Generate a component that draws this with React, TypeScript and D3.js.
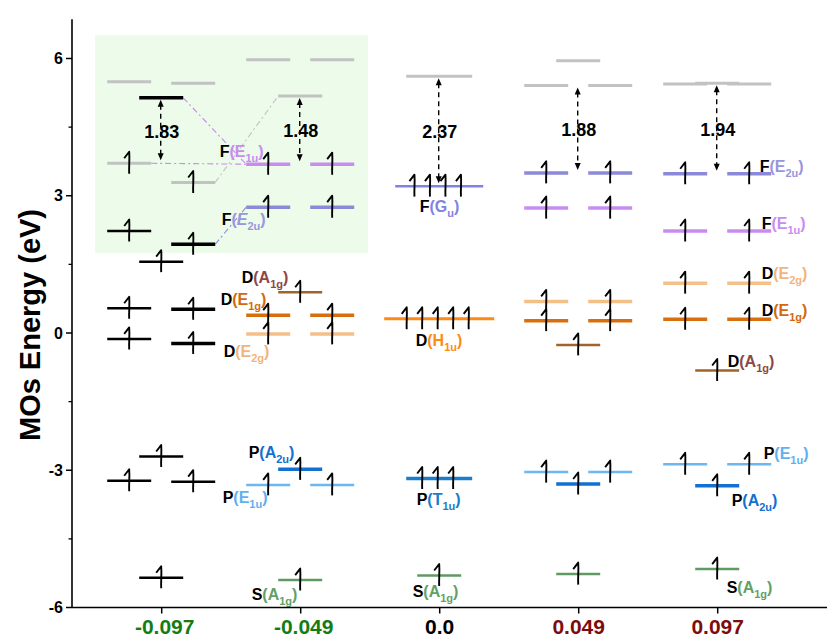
import React from 'react';
import * as d3 from 'd3';

// ---------- data ----------
const columns = ['-0.097', '-0.049', '0.0', '0.049', '0.097'];
const columnLabelColors = ['#137d13', '#137d13', '#000000', '#7d0c0c', '#7d0c0c'];
const yMajorTicks = [-6, -3, 0, 3, 6];
const yMinorTicks = [-4.5, -1.5, 1.5, 4.5];

// slot: -1 left, 0 centre, 1 right ; deg: degeneracy ; el: electrons
const levels = [
  // -0.097
  { id: 'a1', col: '-0.097', e: 5.49, slot: -1, deg: 1, el: 0, grp: 'empty' },
  { id: 'a2', col: '-0.097', e: 5.46, slot: 1, deg: 1, el: 0, grp: 'empty' },
  { id: 'a3', col: '-0.097', e: 5.14, slot: 0, deg: 1, el: 0, grp: 'coreBold' },
  { id: 'a4', col: '-0.097', e: 3.71, slot: -1, deg: 1, el: 1, grp: 'empty' },
  { id: 'a5', col: '-0.097', e: 3.29, slot: 1, deg: 1, el: 1, grp: 'empty' },
  { id: 'a6', col: '-0.097', e: 2.23, slot: -1, deg: 1, el: 1, grp: 'core' },
  { id: 'a7', col: '-0.097', e: 1.94, slot: 1, deg: 1, el: 1, grp: 'coreBold' },
  { id: 'a8', col: '-0.097', e: 1.56, slot: 0, deg: 1, el: 1, grp: 'core' },
  { id: 'a9', col: '-0.097', e: 0.54, slot: -1, deg: 1, el: 1, grp: 'core' },
  { id: 'a10', col: '-0.097', e: 0.52, slot: 1, deg: 1, el: 1, grp: 'coreBold' },
  { id: 'a11', col: '-0.097', e: -0.13, slot: -1, deg: 1, el: 1, grp: 'core' },
  { id: 'a12', col: '-0.097', e: -0.23, slot: 1, deg: 1, el: 1, grp: 'coreBold' },
  { id: 'a13', col: '-0.097', e: -2.70, slot: 0, deg: 1, el: 1, grp: 'core' },
  { id: 'a14', col: '-0.097', e: -3.23, slot: -1, deg: 1, el: 1, grp: 'core' },
  { id: 'a15', col: '-0.097', e: -3.25, slot: 1, deg: 1, el: 1, grp: 'core' },
  { id: 'a16', col: '-0.097', e: -5.35, slot: 0, deg: 1, el: 1, grp: 'core' },
  // -0.049
  { id: 'b1', col: '-0.049', e: 5.97, slot: -1, deg: 1, el: 0, grp: 'empty' },
  { id: 'b2', col: '-0.049', e: 5.97, slot: 1, deg: 1, el: 0, grp: 'empty' },
  { id: 'b3', col: '-0.049', e: 5.18, slot: 0, deg: 1, el: 0, grp: 'empty' },
  { id: 'b4', col: '-0.049', e: 3.69, slot: -1, deg: 1, el: 1, grp: 'F_E1u' },
  { id: 'b5', col: '-0.049', e: 3.69, slot: 1, deg: 1, el: 1, grp: 'F_E1u' },
  { id: 'b6', col: '-0.049', e: 2.75, slot: -1, deg: 1, el: 1, grp: 'F_E2u' },
  { id: 'b7', col: '-0.049', e: 2.75, slot: 1, deg: 1, el: 1, grp: 'F_E2u' },
  { id: 'b8', col: '-0.049', e: 0.89, slot: 0, deg: 1, el: 1, grp: 'D_A1g' },
  { id: 'b9', col: '-0.049', e: 0.39, slot: -1, deg: 1, el: 1, grp: 'D_E1g' },
  { id: 'b10', col: '-0.049', e: 0.39, slot: 1, deg: 1, el: 1, grp: 'D_E1g' },
  { id: 'b11', col: '-0.049', e: -0.02, slot: -1, deg: 1, el: 1, grp: 'D_E2g' },
  { id: 'b12', col: '-0.049', e: -0.02, slot: 1, deg: 1, el: 1, grp: 'D_E2g' },
  { id: 'b13', col: '-0.049', e: -2.98, slot: 0, deg: 1, el: 1, grp: 'P_A2u' },
  { id: 'b14', col: '-0.049', e: -3.32, slot: -1, deg: 1, el: 1, grp: 'P_E1u' },
  { id: 'b15', col: '-0.049', e: -3.32, slot: 1, deg: 1, el: 1, grp: 'P_E1u' },
  { id: 'b16', col: '-0.049', e: -5.40, slot: 0, deg: 1, el: 1, grp: 'S_A1g' },
  // 0.0
  { id: 'c1', col: '0.0', e: 5.61, slot: 0, deg: 3, el: 0, grp: 'empty' },
  { id: 'c2', col: '0.0', e: 3.21, slot: 0, deg: 4, el: 4, grp: 'F_Gu' },
  { id: 'c3', col: '0.0', e: 0.31, slot: 0, deg: 5, el: 5, grp: 'D_H1u' },
  { id: 'c4', col: '0.0', e: -3.18, slot: 0, deg: 3, el: 3, grp: 'P_T1u' },
  { id: 'c5', col: '0.0', e: -5.30, slot: 0, deg: 1, el: 1, grp: 'S_A1g' },
  // 0.049
  { id: 'd1', col: '0.049', e: 5.95, slot: 0, deg: 1, el: 0, grp: 'empty' },
  { id: 'd2', col: '0.049', e: 5.41, slot: -1, deg: 1, el: 0, grp: 'empty' },
  { id: 'd3', col: '0.049', e: 5.41, slot: 1, deg: 1, el: 0, grp: 'empty' },
  { id: 'd4', col: '0.049', e: 3.50, slot: -1, deg: 1, el: 1, grp: 'F_E2u' },
  { id: 'd5', col: '0.049', e: 3.50, slot: 1, deg: 1, el: 1, grp: 'F_E2u' },
  { id: 'd6', col: '0.049', e: 2.73, slot: -1, deg: 1, el: 1, grp: 'F_E1u' },
  { id: 'd7', col: '0.049', e: 2.73, slot: 1, deg: 1, el: 1, grp: 'F_E1u' },
  { id: 'd8', col: '0.049', e: 0.69, slot: -1, deg: 1, el: 1, grp: 'D_E2g' },
  { id: 'd9', col: '0.049', e: 0.69, slot: 1, deg: 1, el: 1, grp: 'D_E2g' },
  { id: 'd10', col: '0.049', e: 0.27, slot: -1, deg: 1, el: 1, grp: 'D_E1g' },
  { id: 'd11', col: '0.049', e: 0.27, slot: 1, deg: 1, el: 1, grp: 'D_E1g' },
  { id: 'd12', col: '0.049', e: -0.26, slot: 0, deg: 1, el: 1, grp: 'D_A1g' },
  { id: 'd13', col: '0.049', e: -3.04, slot: -1, deg: 1, el: 1, grp: 'P_E1u' },
  { id: 'd14', col: '0.049', e: -3.04, slot: 1, deg: 1, el: 1, grp: 'P_E1u' },
  { id: 'd15', col: '0.049', e: -3.30, slot: 0, deg: 1, el: 1, grp: 'P_A2u' },
  { id: 'd16', col: '0.049', e: -5.27, slot: 0, deg: 1, el: 1, grp: 'S_A1g' },
  // 0.097
  { id: 'e1', col: '0.097', e: 5.44, slot: -1, deg: 1, el: 0, grp: 'empty' },
  { id: 'e2', col: '0.097', e: 5.46, slot: 0, deg: 1, el: 0, grp: 'empty' },
  { id: 'e3', col: '0.097', e: 5.44, slot: 1, deg: 1, el: 0, grp: 'empty' },
  { id: 'e4', col: '0.097', e: 3.48, slot: -1, deg: 1, el: 1, grp: 'F_E2u' },
  { id: 'e5', col: '0.097', e: 3.48, slot: 1, deg: 1, el: 1, grp: 'F_E2u' },
  { id: 'e6', col: '0.097', e: 2.23, slot: -1, deg: 1, el: 1, grp: 'F_E1u' },
  { id: 'e7', col: '0.097', e: 2.23, slot: 1, deg: 1, el: 1, grp: 'F_E1u' },
  { id: 'e8', col: '0.097', e: 1.09, slot: -1, deg: 1, el: 1, grp: 'D_E2g' },
  { id: 'e9', col: '0.097', e: 1.09, slot: 1, deg: 1, el: 1, grp: 'D_E2g' },
  { id: 'e10', col: '0.097', e: 0.30, slot: -1, deg: 1, el: 1, grp: 'D_E1g' },
  { id: 'e11', col: '0.097', e: 0.30, slot: 1, deg: 1, el: 1, grp: 'D_E1g' },
  { id: 'e12', col: '0.097', e: -0.82, slot: 0, deg: 1, el: 1, grp: 'D_A1g' },
  { id: 'e13', col: '0.097', e: -2.87, slot: -1, deg: 1, el: 1, grp: 'P_E1u' },
  { id: 'e14', col: '0.097', e: -2.87, slot: 1, deg: 1, el: 1, grp: 'P_E1u' },
  { id: 'e15', col: '0.097', e: -3.34, slot: 0, deg: 1, el: 1, grp: 'P_A2u' },
  { id: 'e16', col: '0.097', e: -5.16, slot: 0, deg: 1, el: 1, grp: 'S_A1g' },
];

// HOMO-LUMO style gaps
const gaps = [
  { col: '-0.097', top: 'a3', bottom: 'a4', label: '1.83' },
  { col: '-0.049', top: 'b3', bottom: 'b4', label: '1.48' },
  { col: '0.0', top: 'c1', bottom: 'c2', label: '2.37' },
  { col: '0.049', top: 'd2', bottom: 'd4', label: '1.88' },
  { col: '0.097', top: 'e2', bottom: 'e4', label: '1.94' },
];

// correlation lines (right end of "from" to left end of "to")
const correlations = [
  { from: 'a3', to: 'b4', grp: 'F_E1u' },
  { from: 'a4', to: 'b4', grp: 'F_E1u' },
  { from: 'a5', to: 'b3', grp: 'empty' },
  { from: 'a7', to: 'b6', grp: 'F_E2u' },
];

// orbital labels: anchored to a level
const orbitalLabels = [
  { at: 'b4', dx: -81, dy: -7, orb: 'F', sym: 'E', sub: '1u', grp: 'F_E1u', italic: false },
  { at: 'b6', dx: -79, dy: 18, orb: 'F', sym: 'E', sub: '2u', grp: 'F_E2u', italic: true },
  { at: 'b8', dx: -59, dy: -9, orb: 'D', sym: 'A', sub: '1g', grp: 'D_A1g', italic: false },
  { at: 'b9', dx: -80, dy: -10, orb: 'D', sym: 'E', sub: '1g', grp: 'D_E1g', italic: false },
  { at: 'b11', dx: -77, dy: 23, orb: 'D', sym: 'E', sub: '2g', grp: 'D_E2g', italic: false },
  { at: 'b13', dx: -52, dy: -11, orb: 'P', sym: 'A', sub: '2u', grp: 'P_A2u', italic: false },
  { at: 'b14', dx: -78, dy: 18, orb: 'P', sym: 'E', sub: '1u', grp: 'P_E1u', italic: false },
  { at: 'b16', dx: -49, dy: 20, orb: 'S', sym: 'A', sub: '1g', grp: 'S_A1g', italic: false },
  { at: 'c2', dx: -20, dy: 26, orb: 'F', sym: 'G', sub: 'u', grp: 'F_Gu', italic: false },
  { at: 'c3', dx: -24, dy: 27, orb: 'D', sym: 'H', sub: '1u', grp: 'D_H1u', italic: false },
  { at: 'c4', dx: -23, dy: 27, orb: 'P', sym: 'T', sub: '1u', grp: 'P_T1u', italic: false },
  { at: 'c5', dx: -27, dy: 22, orb: 'S', sym: 'A', sub: '1g', grp: 'S_A1g', italic: false },
  { at: 'e4', dx: 42, dy: -2, orb: 'F', sym: 'E', sub: '2u', grp: 'F_E2u', italic: false },
  { at: 'e6', dx: 44, dy: -2, orb: 'F', sym: 'E', sub: '1u', grp: 'F_E1u', italic: false },
  { at: 'e8', dx: 44, dy: -4, orb: 'D', sym: 'E', sub: '2g', grp: 'D_E2g', italic: false },
  { at: 'e10', dx: 44, dy: -3, orb: 'D', sym: 'E', sub: '1g', grp: 'D_E1g', italic: false },
  { at: 'e12', dx: 10, dy: -4, orb: 'D', sym: 'A', sub: '1g', grp: 'D_A1g', italic: false },
  { at: 'e13', dx: 46, dy: -5, orb: 'P', sym: 'E', sub: '1u', grp: 'P_E1u', italic: false },
  { at: 'e15', dx: 14, dy: 20, orb: 'P', sym: 'A', sub: '2u', grp: 'P_A2u', italic: false },
  { at: 'e16', dx: 9, dy: 24, orb: 'S', sym: 'A', sub: '1g', grp: 'S_A1g', italic: false },
];

// ---------- styles ----------
const GROUPS: Record<string, { line: string; text: string; w: number }> = {
  empty: { line: '#c2c2c2', text: '#c2c2c2', w: 3 },
  core: { line: '#000000', text: '#000000', w: 2.5 },
  coreBold: { line: '#000000', text: '#000000', w: 3.5 },
  F_E1u: { line: '#c88cf0', text: '#c98cf0', w: 3.5 },
  F_E2u: { line: '#8c8ad8', text: '#9896dc', w: 3.5 },
  F_Gu: { line: '#8282e6', text: '#8282e0', w: 2.5 },
  D_A1g: { line: '#a0642a', text: '#8e4646', w: 2.5 },
  D_E1g: { line: '#d96e0e', text: '#d2690e', w: 3.5 },
  D_E2g: { line: '#f5bf88', text: '#f2b47c', w: 3.5 },
  D_H1u: { line: '#ff8a12', text: '#ff8a12', w: 3 },
  P_A2u: { line: '#1170d0', text: '#1170d0', w: 3.5 },
  P_E1u: { line: '#6cb6f2', text: '#62b0f0', w: 2.5 },
  P_T1u: { line: '#1b7cc9', text: '#1b7cc9', w: 3.5 },
  S_A1g: { line: '#5f9a63', text: '#62a066', w: 2.5 },
};

const W = 827;
const H = 637;
const FONT = 'Arial, "Liberation Sans", Helvetica, sans-serif';
const GREEN = '#ecfbea';

export default function App() {
  const x = d3.scalePoint<string>().domain(columns).range([161.7, 717.7]);
  const y = d3.scaleLinear().domain([-6, 6]).range([607.5, 58.5]);
  const axisX = 72;
  const axisTopE = 6.86;
  const slotStep = 32;
  const segW = (deg: number) => 22 * Math.max(2, deg);

  const geom = new Map<string, { x1: number; x2: number; cx: number; y: number }>();
  levels.forEach((l) => {
    const cx = (x(l.col) as number) + l.slot * slotStep - 0.5;
    const w = segW(l.deg);
    geom.set(l.id, { x1: cx - w / 2, x2: cx + w / 2, cx, y: y(l.e) });
  });

  const electron = (ex: number, ey: number, key: string) => (
    <path
      key={key}
      d={`M${ex - 5},${ey - 5} L${ex},${ey - 11.5} C${ex + 0.6},${ey - 3} ${ex - 0.4},${ey + 3} ${ex},${ey + 10.5}`}
      fill="none"
      stroke="#000"
      strokeWidth={1.9}
      strokeLinejoin="round"
    />
  );

  const greenX1 = (x('-0.097') as number) - 66.7;
  const greenX2 = (x('-0.049') as number) + 67.3;

  return (
    <svg width={W} height={H} style={{ position: 'absolute', left: 0, top: 0, background: '#fff' }} fontFamily={FONT}>
      <rect x={0} y={0} width={W} height={H} fill="#fff" />
      {/* highlight region */}
      <rect x={greenX1} y={y(6.51)} width={greenX2 - greenX1} height={y(1.75) - y(6.51)} fill={GREEN} />

      {/* correlation lines */}
      {correlations.map((c, i) => {
        const a = geom.get(c.from)!;
        const b = geom.get(c.to)!;
        return (
          <line key={'cor' + i} x1={a.x2} y1={a.y} x2={b.x1} y2={b.y}
            stroke={GROUPS[c.grp].line} strokeWidth={1.1} strokeDasharray="6,3,2,3" />
        );
      })}

      {/* levels */}
      {levels.map((l) => {
        const g = geom.get(l.id)!;
        return (
          <line key={l.id} x1={g.x1} x2={g.x2} y1={g.y} y2={g.y}
            stroke={GROUPS[l.grp].line} strokeWidth={GROUPS[l.grp].w} />
        );
      })}

      {/* electrons */}
      {levels.map((l) => {
        const g = geom.get(l.id)!;
        const n = l.el;
        const sp = 15.5;
        return d3.range(n).map((k) => electron(g.cx - 1.5 * (n > 1 ? 1 : 0) + (k - (n - 1) / 2) * sp, g.y, l.id + 'e' + k));
      })}

      {/* gaps */}
      {gaps.map((gp, i) => {
        const t = geom.get(gp.top)!;
        const b = geom.get(gp.bottom)!;
        const gx = (x(gp.col) as number) - 1;
        const yt = t.y + 2;
        const yb = b.y - 3;
        return (
          <g key={'gap' + i}>
            <line x1={gx} x2={gx} y1={yt + 5} y2={yb - 5} stroke="#000" strokeWidth={1.4} strokeDasharray="5,4" />
            <path d={`M${gx},${yt} L${gx - 3},${yt + 7} L${gx + 3},${yt + 7} Z`} fill="#000" />
            <path d={`M${gx},${yb} L${gx - 3},${yb - 7} L${gx + 3},${yb - 7} Z`} fill="#000" />
            <text x={gx + 1} y={(yt + yb) / 2 + 3} textAnchor="middle" dominantBaseline="middle"
              fontSize={18} fontWeight="bold" fill="#000">{gp.label}</text>
          </g>
        );
      })}

      {/* orbital labels */}
      {orbitalLabels.map((lb, i) => {
        const g = geom.get(lb.at)!;
        const lx = (x(levels.find((l) => l.id === lb.at)!.col) as number) + lb.dx;
        const c = GROUPS[lb.grp].text;
        return (
          <text key={'lb' + i} x={lx} y={g.y + lb.dy} fontSize={16} fontWeight="bold">
            <tspan fill="#000">{lb.orb}</tspan>
            <tspan fill={c}>(</tspan>
            <tspan fill={c} fontStyle={lb.italic ? 'italic' : 'normal'}>{lb.sym}</tspan>
            <tspan fill={c} fontSize={11} dy={5}>{lb.sub}</tspan>
            <tspan fill={c} dy={-5}>)</tspan>
          </text>
        );
      })}

      {/* y axis */}
      <line x1={axisX} x2={axisX} y1={y(axisTopE)} y2={y(-6)} stroke="#000" strokeWidth={1.6} />
      {yMajorTicks.map((t) => (
        <g key={'yt' + t}>
          <line x1={axisX - 6} x2={axisX} y1={y(t)} y2={y(t)} stroke="#000" strokeWidth={1.5} />
          <text x={axisX - 9} y={y(t)} textAnchor="end" dominantBaseline="central" fontSize={16} fontWeight="bold">{t}</text>
        </g>
      ))}
      {yMinorTicks.map((t) => (
        <line key={'ym' + t} x1={axisX - 3.5} x2={axisX} y1={y(t)} y2={y(t)} stroke="#000" strokeWidth={1.3} />
      ))}
      <text transform={`translate(30, ${y(0) - 8}) rotate(-90)`} textAnchor="middle" dominantBaseline="central"
        fontSize={29} fontWeight="bold">MOs Energy (eV)</text>

      {/* x axis */}
      <line x1={axisX} x2={W} y1={y(-6)} y2={y(-6)} stroke="#000" strokeWidth={1.6} />
      {columns.map((c, i) => (
        <g key={'xt' + c}>
          <line x1={x(c)} x2={x(c)} y1={y(-6)} y2={y(-6) + 6} stroke="#000" strokeWidth={1.5} />
          <text x={(x(c) as number) + (c.startsWith('-') ? 3 : 0)} y={y(-6) + 26} textAnchor="middle" fontSize={21} fontWeight="bold" fill={columnLabelColors[i]}>{c}</text>
        </g>
      ))}
    </svg>
  );
}
